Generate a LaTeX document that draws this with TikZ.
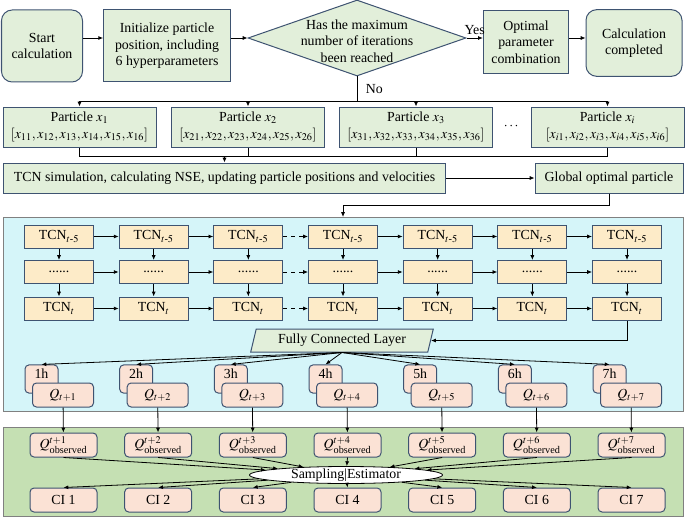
\documentclass[tikz,border=0pt]{standalone}
\usepackage{amsmath,amssymb}
\usepackage{mathptmx}
\usepackage{fontspec}
\setmainfont{Liberation Serif}
\usetikzlibrary{shapes.geometric,arrows.meta}

\definecolor{boxg}{HTML}{E2EFDA}
\definecolor{bordc}{HTML}{3E5371}
\definecolor{cyanc}{HTML}{D5F5F9}
\definecolor{tcnc}{HTML}{FDEBC8}
\definecolor{qc}{HTML}{FBE2D5}
\definecolor{greenc}{HTML}{C5E0B3}

\tikzset{
	flow/.style={draw=bordc,fill=boxg,line width=.75pt,align=center,inner sep=1pt},
	term/.style={flow,rounded corners=8pt},
	decision/.style={draw=bordc,fill=boxg,line width=.75pt,diamond,aspect=2.87,inner sep=0pt,minimum width=163.5pt,minimum height=57pt},
	region/.style={draw=gray,line width=1.1pt,anchor=north west,inner sep=0pt},
	tcnbox/.style={draw=bordc,fill=tcnc,line width=.75pt,minimum width=51.75pt,minimum height=17.25pt,inner sep=0pt},
	hbox/.style={draw=bordc,fill=qc,line width=.75pt,rounded corners=3pt,minimum width=24.75pt,inner xsep=0pt,inner ysep=2.6pt,text height=7.2pt,text depth=8.7pt},
	qbox/.style={draw=bordc,fill=qc,line width=.75pt,rounded corners=3pt,minimum width=45.75pt,minimum height=18pt,inner sep=0pt},
	obsbox/.style={qbox,minimum width=50.25pt},
	fcl/.style={draw=bordc,fill=boxg,line width=.75pt,trapezium,trapezium left angle=72,trapezium right angle=108,trapezium stretches=true,minimum width=137pt,minimum height=17.25pt,inner sep=0pt},
	arr/.style={-{Latex[length=3.6pt,width=3pt]},line width=.6pt},
	line/.style={line width=.6pt}
}

\begin{document}
\begin{tikzpicture}[x=.75pt,y=-.75pt,font=\fontsize{10.4}{12.4}\selectfont]
	\useasboundingbox (0,0) rectangle (685,517);

	\node[term,minimum width=60.75pt,minimum height=54pt] (start) at (42,46) {Start\\calculation};
	\node[flow,minimum width=95pt,minimum height=54pt] (init) at (167,46) {Initialize particle\\position, including\\6 hyperparameters};
	\node[decision] (dec) at (357,38) {};
	\node[align=center] (dectxt) at (357,41) {Has the maximum\\number of iterations\\been reached};
	\node[flow,minimum width=64pt,minimum height=47pt] (opt) at (526,42) {Optimal\\parameter\\combination};
	\node[term,minimum width=72pt,minimum height=50pt] (done) at (634,43) {Calculation\\completed};
	\draw[arr] (start.east |- dec) -- (init.west |- dec);
	\draw[arr] (init.east |- dec) -- (dec.west);
	\draw[arr] (dec.east) -- (opt.west |- dec) node[midway,above=-1pt] {Yes};
	\draw[arr] (opt.east |- dec) -- (done.west |- dec);

	\node[flow,minimum width=114.75pt,minimum height=30pt] (p1) at (79.5,127) {Particle $x_1$\\$[x_{11}, x_{12}, x_{13}, x_{14}, x_{15}, x_{16}]$};
	\node[flow,minimum width=114.75pt,minimum height=30pt] (p2) at (248,127) {Particle $x_2$\\$[x_{21}, x_{22}, x_{23}, x_{24}, x_{25}, x_{26}]$};
	\node[flow,minimum width=114.75pt,minimum height=30pt] (p3) at (416,127) {Particle $x_3$\\$[x_{31}, x_{32}, x_{33}, x_{34}, x_{35}, x_{36}]$};
	\node (pdots) at (512,126) {$\cdots$};
	\node[flow,minimum width=114.75pt,minimum height=30pt] (pi) at (607.5,127) {Particle $x_i$\\$[x_{i1}, x_{i2}, x_{i3}, x_{i4}, x_{i5}, x_{i6}]$};

	\coordinate (bus) at (357,101);
	\draw[line] (dec.south) -- (bus) node[midway,right=3pt] {No};
	\draw[line] (p1.north |- bus) -- (pi.north |- bus);
	\foreach \p in {p1,p2,p3,pi}
		\draw[arr] (\p.north |- bus) -- (\p.north);

	\node[flow,minimum width=332pt,minimum height=22.5pt] (sim) at (224.5,178) {TCN simulation, calculating NSE, updating particle positions and velocities};
	\node[flow,minimum width=111pt,minimum height=22.5pt] (glob) at (609,178) {Global optimal particle};
	\coordinate (join) at (224.5,156);
	\draw[line] (p1.south) -- (p1.south |- join) -- (pi.south |- join) -- (pi.south);
	\draw[line] (p2.south) -- (p2.south |- join);
	\draw[line] (p3.south) -- (p3.south |- join);
	\draw[arr] (join) -- (sim.north);
	\draw[arr] (sim) -- (glob);

	\node[region,fill=cyanc,minimum width=510pt,minimum height=145.5pt] (nnet) at (3,217) {};
	\node[region,fill=greenc,minimum width=510pt,minimum height=66.75pt] (stat) at (3,427) {};

	\foreach \c in {1,...,7}{
		\pgfmathsetmacro{\cx}{59+94.67*(\c-1)}
		\node[tcnbox] (ta\c) at (\cx,236.5) {TCN$_{t\text{-}5}$};
		\node[tcnbox] (tb\c) at (\cx,272) {......};
		\node[tcnbox] (tc\c) at (\cx,308.5) {TCN$_t$};
		\draw[arr] (ta\c) -- (tb\c);
		\draw[arr] (tb\c) -- (tc\c);
	}
	\foreach \c/\n/\s in {1/2/solid,2/3/solid,3/4/dashed,4/5/solid,5/6/solid,6/7/solid}{
		\draw[arr,\s] (ta\c) -- (ta\n);
		\draw[arr,\s] (tb\c) -- (tb\n);
		\draw[arr,\s] (tc\c) -- (tc\n);
	}
	\draw[arr] (glob.south) -- ++(0,12) -| (ta4 |- nnet.north);

	\node[fcl] (fcl) at (342,340.5) {Fully Connected Layer};
	\draw[arr] (tc7.south) |- (fcl.east);

	\node[draw,ellipse,fill=white,line width=.6pt,inner sep=0pt,minimum width=144.75pt,minimum height=12.75pt,text height=7pt,text depth=2pt] (est) at (346,475) {Sampling|Estimator};

	\foreach \c in {1,...,7}{
		\pgfmathsetmacro{\cx}{59+94.67*(\c-1)}
		\node[hbox] (h\c) at (\cx-17.5,379) {\c h};
		\node[qbox] (q\c) at (\cx+4,395) {$Q_{t+\c}$};
		\node[obsbox] (o\c) at (\cx+4.5,445) {$Q^{t+\c}_{\text{observed}}$};
		\node[obsbox] (ci\c) at (\cx+4.5,500) {CI \c};
		\draw[arr] (fcl.south) -- (h\c.north);
		\draw[arr] (q\c) -- (o\c);
		\draw[arr] (o\c.south) -- (est);
		\draw[arr] (est) -- (ci\c.north);
	}
\end{tikzpicture}
\end{document}
